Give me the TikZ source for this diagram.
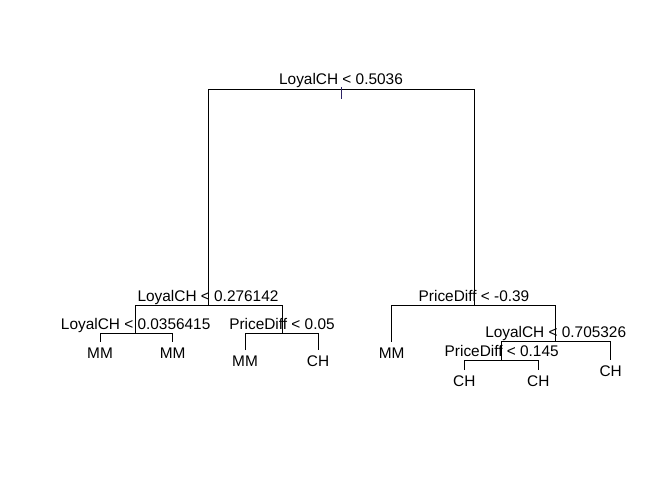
\documentclass[tikz,border=0pt]{standalone}
\usepackage{fontspec}
\setmainfont{Liberation Sans}
\usepackage{xcolor}
\usetikzlibrary{calc}

\definecolor{rootcol}{RGB}{45,35,100}

\tikzset{
	split/.style = {anchor = base, inner sep = 0pt, yshift = 4bp},
	leaf/.style = {anchor = base, inner sep = 0pt, yshift = -16.5bp},
	branch/.style = {line width = 0.8bp}
}

\begin{document}
\begin{tikzpicture}[x = 1bp, y = -1bp, font = \fontsize{15.4bp}{18bp}\selectfont]
		\useasboundingbox (0,0) rectangle (672,480);
		\fill[white] (0,0) rectangle (672,480);
		
		% split points
		\coordinate (root) at (341,89);
		\coordinate (L) at (208,305);
		\coordinate (R) at (474,305);
		\coordinate (LL) at (135.7,333);
		\coordinate (LR) at (282,333);
		\coordinate (RR) at (555.7,341.7);
		\coordinate (RRL) at (501.7,360);
		
		% leaf ends
		\coordinate (LLa) at (100,341.7);
		\coordinate (LLb) at (172.7,341.7);
		\coordinate (LRa) at (245,350);
		\coordinate (LRb) at (318,350);
		\coordinate (RLa) at (391.7,341.7);
		\coordinate (RRb) at (610.7,360);
		\coordinate (RRLa) at (464.3,370);
		\coordinate (RRLb) at (538.3,370);
		
		\begin{scope}[branch]
			\draw (L) -- (L |- root) -- (R |- root) -- (R);
			\draw (LL) -- (LL |- L) -- (LR |- L) -- (LR);
			\draw (RLa) -- (RLa |- R) -- (RR |- R) -- (RR);
			\draw (LLa) -- (LLa |- LL) -- (LLb |- LL) -- (LLb);
			\draw (LRa) -- (LRa |- LR) -- (LRb |- LR) -- (LRb);
			\draw (RRL) -- (RRL |- RR) -- (RRb |- RR) -- (RRb);
			\draw (RRLa) -- (RRLa |- RRL) -- (RRLb |- RRL) -- (RRLb);
		\end{scope}
		
		\draw[rootcol, line width = 0.8bp] ($(root) + (0,-2)$) -- ($(root) + (0,10.5)$);
		
		\node[split] (rootlab) at (root) {LoyalCH < 0.5036};
		\node[split] (Llab) at (L) {LoyalCH < 0.276142};
		\node[split] (Rlab) at (R) {PriceDiff < -0.39};
		\node[split] (LLlab) at (LL) {LoyalCH < 0.0356415};
		\node[split] (LRlab) at (LR) {PriceDiff < 0.05};
		\node[split] (RRlab) at (RR) {LoyalCH < 0.705326};
		\node[split] (RRLlab) at (RRL) {PriceDiff < 0.145};
		
		\node[leaf] (LLalab) at (LLa) {MM};
		\node[leaf] (LLblab) at (LLb) {MM};
		\node[leaf] (LRalab) at (LRa) {MM};
		\node[leaf] (LRblab) at (LRb) {CH};
		\node[leaf] (RLalab) at (RLa) {MM};
		\node[leaf] (RRblab) at (RRb) {CH};
		\node[leaf] (RRLalab) at (RRLa) {CH};
		\node[leaf] (RRLblab) at (RRLb) {CH};
	\end{tikzpicture}
\end{document}
